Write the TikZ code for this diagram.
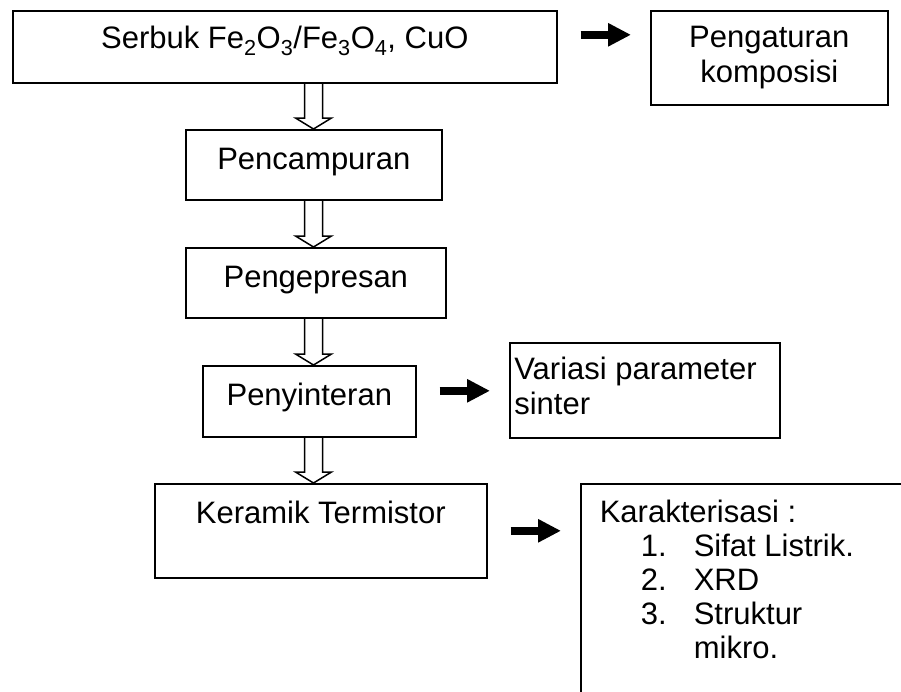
\documentclass[tikz,border=0pt]{standalone}
\usepackage{fontspec}
\setmainfont{Liberation Sans}
\usetikzlibrary{arrows.meta,calc}
% open double-line arrow going down from one box to the next
\newcommand{\hollowdown}[2]{%
  \draw[hollow] let \p1=(#1.south), \p2=(#2.north) in
    (304.5pt,\y1) -- (304.5pt,{\y2+11pt}) -- (295.5pt,{\y2+11pt}) -- (313.5pt,\y2)
    -- (331.5pt,{\y2+11pt}) -- (322.5pt,{\y2+11pt}) -- (322.5pt,\y1);}

\begin{document}
\begin{tikzpicture}[x=1pt,y=-1pt,font=\fontsize{31pt}{35pt}\selectfont,
  stepbox/.style={draw,line width=1.6pt,inner sep=0pt,anchor=north west},
  fatarrow/.style={line width=8pt,-{Triangle[length=23pt,width=22pt]},shorten <=23pt,shorten >=19pt},
  hollow/.style={line width=1.5pt,line join=miter}]
  \useasboundingbox[fill=white] (0,0) rectangle (901,691);
  \clip (0,0) rectangle (901,691);
  % main column
  \node[stepbox,minimum width=544pt,text height=38pt,text depth=34pt] (serbuk) at (12,10)
    {Serbuk Fe\textsubscript{2}O\textsubscript{3}/Fe\textsubscript{3}O\textsubscript{4}, CuO};
  \node[stepbox,minimum width=256pt,text height=40pt,text depth=30pt] (campur) at (185,129) {Pencampuran};
  \node[stepbox,minimum width=260pt,text height=40pt,text depth=30pt] (press) at (185,247) {Pengepresan};
  \node[stepbox,minimum width=213pt,text height=40pt,text depth=31pt] (sinter) at (202,365) {Penyinteran};
  \node[stepbox,minimum width=332pt,text height=40pt,text depth=54pt] (keramik) at (154,483) {Keramik Termistor};
  % side boxes
  \node[stepbox,minimum width=237pt,text height=37pt,text depth=57pt] (komposisi) at (650,10)
    {\begin{tabular}[t]{@{}c@{}}Pengaturan\\komposisi\end{tabular}};
  \node[stepbox,minimum width=270pt,text height=37pt,text depth=58pt] (variasi) at (509,342)
    {\parbox[t]{261pt}{Variasi parameter\\sinter}};
  \node[stepbox,minimum width=340pt,text height=39pt,text depth=191pt] (karakter) at (580,483)
    {\parbox[t]{302pt}{\fontsize{31pt}{34pt}\selectfont Karakterisasi :\\
      \hspace*{41pt}\makebox[53pt][l]{1.}Sifat Listrik.\\
      \hspace*{41pt}\makebox[53pt][l]{2.}XRD\\
      \hspace*{41pt}\makebox[53pt][l]{3.}Struktur\\
      \hspace*{94pt}mikro.}};
  % connectors
  \hollowdown{serbuk}{campur}
  \hollowdown{campur}{press}
  \hollowdown{press}{sinter}
  \hollowdown{sinter}{keramik}
  \coordinate (a1) at ([yshift=12pt]serbuk.east);
  \coordinate (a2) at ([yshift=10.5pt]sinter.east);
  \draw[fatarrow] (a1) -- (a1 -| komposisi.west);
  \draw[fatarrow] (a2) -- (a2 -| variasi.west);
  \draw[fatarrow] (keramik.east) -- (keramik.east -| karakter.west);
\end{tikzpicture}
\end{document}
